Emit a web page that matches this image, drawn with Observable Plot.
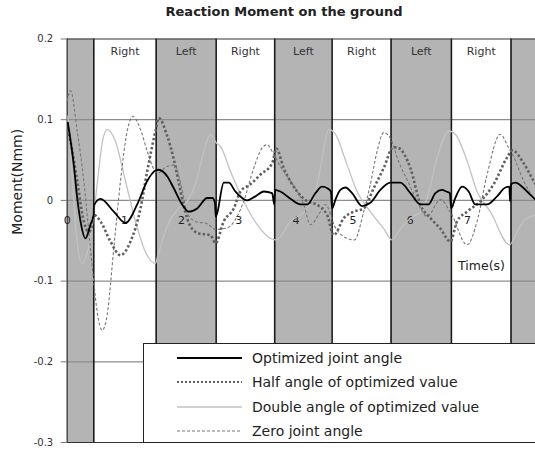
<!DOCTYPE html>
<html><head><meta charset="utf-8">
<script src="https://cdn.jsdelivr.net/npm/d3@7"></script>
<script src="https://cdn.jsdelivr.net/npm/@observablehq/plot@0.6"></script>
<style>
body{margin:0;background:#fff;font-family:"DejaVu Sans",sans-serif;}
#wrap{position:relative;width:535px;height:451px;overflow:hidden;background:#fff;}
#title{position:absolute;top:3px;left:33px;width:502px;text-align:center;font-weight:bold;font-size:13px;line-height:18px;color:#222;}
#chart{position:absolute;top:24px;left:0;}
#legend{position:absolute;left:143px;top:343px;width:410px;height:100px;box-sizing:border-box;border:1.5px solid #222;background:#fff;}
</style></head><body>
<div id="wrap"><div id="title">Reaction Moment on the ground</div><div id="chart"></div><div id="legend"></div></div>
<script>
// ---- data (time in s, moment in Nmm) ----
const yTicks = [0.2, 0.1, 0, -0.1, -0.2, -0.3];
const gridY = [0.1, 0, -0.1, -0.2];
const xTicks = [0, 1, 2, 3, 4, 5, 6, 7];
const bandStart = [0, 0.465, 1.556, 2.605, 3.629, 4.633, 5.664, 6.719, 7.762];
const bandEnd   = [0.465, 1.556, 2.605, 3.629, 4.633, 5.664, 6.719, 7.762, 8.19];
const bandLabel = ["", "Right", "Left", "Right", "Left", "Right", "Left", "Right", ""];
const bandGrey  = [true, false, true, false, true, false, true, false, true];
const boundaries = [0.465, 1.556, 2.605, 3.629, 4.633, 5.664, 6.719, 7.762];

const optimized = [[0.01,0.097],[0.115,0.044],[0.175,0.003],[0.233,-0.026],[0.32,-0.047],[0.407,-0.03],[0.463,-0.018],[0.468,-0.006],[0.582,0.002],[0.815,-0.014],[1.019,-0.028],[1.224,-0.005],[1.399,0.024],[1.544,0.037],[1.601,0.038],[1.748,0.03],[1.864,0.015],[2.01,-0.005],[2.126,-0.014],[2.273,-0.01],[2.448,0.003],[2.54,0.003],[2.584,-0.003],[2.598,-0.02],[2.622,-0.016],[2.738,0.022],[2.825,0.022],[2.942,0.011],[3.147,0],[3.292,0.005],[3.437,0.011],[3.584,0.009],[3.622,-0.005],[3.635,0.013],[3.729,0.011],[3.904,0.002],[4.079,-0.005],[4.201,-0.005],[4.341,0.009],[4.458,0.017],[4.551,0.015],[4.612,0.011],[4.633,-0.01],[4.691,0.001],[4.778,0.013],[4.866,0.016],[4.983,0.009],[5.157,-0.007],[5.302,-0.003],[5.477,0.013],[5.652,0.022],[5.827,0.022],[6.002,0.009],[6.177,-0.005],[6.316,-0.005],[6.439,0.009],[6.556,0.013],[6.631,0.011],[6.692,0.009],[6.715,-0.01],[6.788,0.003],[6.906,0.017],[7.021,0.011],[7.138,-0.005],[7.343,-0.005],[7.517,0.005],[7.663,0.016],[7.733,0.017],[7.745,-0.001],[7.762,0.02],[7.837,0.022],[7.955,0.017],[8.07,0.009],[8.19,0.001]];

const half = [[0.01,0.088],[0.058,0.073],[0.175,0.024],[0.29,-0.026],[0.378,-0.039],[0.437,-0.03],[0.465,-0.018],[0.582,-0.026],[0.757,-0.051],[0.932,-0.068],[1.107,-0.051],[1.282,-0.01],[1.399,0.036],[1.544,0.086],[1.601,0.102],[1.748,0.08],[1.864,0.051],[1.951,0.022],[2.038,-0.007],[2.155,-0.032],[2.301,-0.041],[2.505,-0.043],[2.593,-0.053],[2.738,-0.026],[2.913,-0.01],[3.03,0.011],[3.205,0.02],[3.38,0.032],[3.584,0.046],[3.659,0.064],[3.787,0.04],[4.021,0.011],[4.196,-0.001],[4.358,-0.005],[4.545,-0.018],[4.661,-0.043],[4.836,-0.022],[5.01,-0.014],[5.185,-0.01],[5.36,0.015],[5.535,0.04],[5.705,0.066],[5.792,0.065],[6.002,0.04],[6.177,-0.005],[6.352,-0.022],[6.527,-0.035],[6.702,-0.051],[6.818,-0.026],[6.993,-0.014],[7.226,-0.001],[7.458,0.02],[7.692,0.053],[7.785,0.062],[7.983,0.046],[8.157,0.024],[8.19,0.02]];

const double = [[0.01,0.105],[0.093,0.024],[0.163,-0.045],[0.262,-0.078],[0.355,-0.064],[0.407,-0.043],[0.46,-0.02],[0.53,0.024],[0.617,0.073],[0.699,0.088],[0.844,0.073],[1.019,0.024],[1.194,-0.026],[1.369,-0.064],[1.544,-0.078],[1.579,-0.07],[1.748,-0.032],[1.923,-0.012],[2.121,0.001],[2.26,0.024],[2.383,0.059],[2.505,0.082],[2.61,0.071],[2.68,0.067],[2.855,0.036],[3.087,-0.001],[3.322,-0.03],[3.554,-0.047],[3.659,-0.049],[3.904,-0.026],[4.196,-0.01],[4.341,0.011],[4.428,0.04],[4.573,0.088],[4.691,0.082],[4.895,0.044],[5.07,0.011],[5.302,-0.014],[5.535,-0.035],[5.682,-0.049],[5.827,-0.035],[6.002,-0.022],[6.177,-0.014],[6.294,0.003],[6.469,0.053],[6.672,0.086],[6.788,0.082],[6.993,0.049],[7.168,0.011],[7.4,-0.014],[7.738,-0.055],[7.867,-0.039],[7.983,-0.026],[8.19,-0.018]];

const zero = [[0,0.123],[0.058,0.136],[0.175,0.086],[0.29,0.024],[0.378,-0.039],[0.465,-0.101],[0.524,-0.138],[0.612,-0.161],[0.699,-0.142],[0.815,-0.059],[0.932,0.024],[1.049,0.086],[1.15,0.104],[1.281,0.088],[1.399,0.061],[1.514,0.039],[1.596,0.034],[1.719,0.041],[1.876,0.044],[2.01,0.013],[2.098,-0.016],[2.243,-0.026],[2.448,-0.029],[2.593,-0.036],[2.797,-0.034],[2.972,-0.02],[3.087,-0.001],[3.262,0.04],[3.409,0.065],[3.497,0.069],[3.612,0.057],[3.729,0.042],[3.904,0.024],[4.136,-0.005],[4.253,-0.03],[4.428,-0.014],[4.516,-0.005],[4.691,-0.034],[4.895,-0.047],[5.023,-0.049],[5.185,-0.014],[5.302,0.02],[5.42,0.061],[5.535,0.084],[5.652,0.077],[5.792,0.049],[6.002,0.017],[6.119,-0.001],[6.294,-0.02],[6.526,0.001],[6.713,-0.016],[6.993,-0.055],[7.168,-0.026],[7.343,0.032],[7.575,0.082],[7.72,0.065],[7.802,0.055],[7.983,0.024],[8.19,-0.001]];

const seriesNames = ["Optimized joint angle", "Half angle of optimized value", "Double angle of optimized value", "Zero joint angle"];

// ---- styles ----
const styles = [
  {stroke: "#000", strokeWidth: 1.8, strokeDasharray: null},
  {stroke: "#606060", strokeWidth: 2.6, strokeDasharray: "2.4 2.2"},
  {stroke: "#c2c2c2", strokeWidth: 1.3, strokeDasharray: null},
  {stroke: "#777", strokeWidth: 1.1, strokeDasharray: "3 2"}
];
const seriesData = [optimized, half, double, zero];

const bands = bandStart.map((s, i) => ({x1: s, x2: bandEnd[i], label: bandLabel[i], grey: bandGrey[i]}));

function curve(i) {
  const st = styles[i];
  const o = {x: d => d[0], y: d => d[1], stroke: st.stroke, strokeWidth: st.strokeWidth, curve: "monotone-x", strokeLinecap: "butt", strokeLinejoin: "round"};
  if (st.strokeDasharray) o.strokeDasharray = st.strokeDasharray;
  return Plot.line(seriesData[i], o);
}

const chart = Plot.plot({
  width: 535, height: 427,
  marginTop: 14.5, marginBottom: 9, marginLeft: 66.7, marginRight: 0,
  x: {domain: [0, 8.19], axis: null},
  y: {domain: [-0.3, 0.2]},
  style: {fontFamily: "DejaVu Sans", background: "transparent", color: "#333", overflow: "visible"},
  marks: [
    Plot.rect(bands.filter(d => d.grey), {x1: "x1", x2: "x2", fill: "#b4b4b4"}),
    Plot.ruleY(gridY, {stroke: "#8c8c8c", strokeWidth: 1.3}),
    Plot.ruleX(boundaries, {stroke: "#1a1a1a", strokeWidth: 1.6}),
    Plot.ruleY([0.2, -0.3], {stroke: "#333", strokeWidth: 1}),
    Plot.ruleX([0], {stroke: "#333", strokeWidth: 1.2}),
    Plot.axisY({ticks: yTicks, tickSize: 6, tickPadding: 8, fontSize: 10, tickFormat: d => d.toString(), label: null, stroke: "#777"}),
    Plot.text(xTicks, {x: d => d, y: () => 0, dy: 20, text: d => String(d), fontSize: 11, fill: "#222"}),
    Plot.text(bands.filter(d => d.label), {x: d => (d.x1 + d.x2) / 2, frameAnchor: "top", lineAnchor: "middle", dy: 12, text: "label", fontSize: 11, fill: "#333"}),
    curve(2), curve(3), curve(1), curve(0),
    Plot.text(["Time(s)"], {frameAnchor: "bottom-right", textAnchor: "middle", lineAnchor: "middle", dx: -54, dy: -177, fontSize: 12.5, fill: "#222"}),
    Plot.text(["Moment(Nmm)"], {frameAnchor: "left", textAnchor: "middle", lineAnchor: "middle", rotate: -90, dx: -50, dy: -59, fontSize: 14, fill: "#222"})
  ]
});
document.getElementById("chart").appendChild(chart);

// ---- legend ----
const lg = d3.select("#legend").append("svg").attr("width", 410).attr("height", 97);
const rowY = [14, 38, 63, 87];
seriesNames.forEach((name, i) => {
  const st = styles[i];
  const ln = lg.append("line").attr("x1", 33).attr("x2", 98).attr("y1", rowY[i]).attr("y2", rowY[i])
    .attr("stroke", st.stroke).attr("stroke-width", i === 1 ? 2.2 : st.strokeWidth);
  if (st.strokeDasharray) ln.attr("stroke-dasharray", i === 1 ? "2 2" : st.strokeDasharray);
  lg.append("text").attr("x", 108).attr("y", rowY[i]).attr("dominant-baseline", "central")
    .attr("font-size", 14).attr("fill", "#222").attr("font-family", "DejaVu Sans").text(name);
});
</script>
</body></html>
